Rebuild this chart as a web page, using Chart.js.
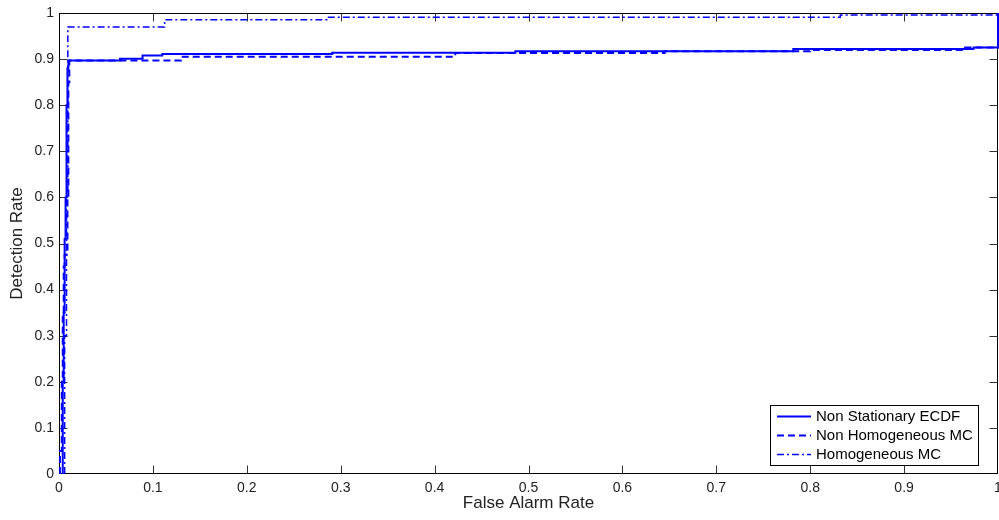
<!DOCTYPE html>
<html>
<head>
<meta charset="utf-8">
<script src="https://cdn.jsdelivr.net/npm/chart.js@4/dist/chart.umd.min.js"></script>
<style>
  html, body { margin: 0; padding: 0; background: #fff; overflow: hidden; }
  #c { display: block; }
</style>
</head>
<body>
<canvas id="c" width="999" height="520"></canvas>
<script>
// ---- data ----
const seriesNames = ['Non Stationary ECDF', 'Non Homogeneous MC', 'Homogeneous MC'];

const ecdfX = [0.004, 0.004, 0.005, 0.006, 0.007, 0.008, 0.009, 0.010, 0.065, 0.089, 0.110, 0.291, 0.486, 0.782, 0.974, 1.000, 1.000];
const ecdfY = [0.000, 0.200, 0.350, 0.510, 0.600, 0.800, 0.880, 0.897, 0.901, 0.908, 0.911, 0.914, 0.917, 0.922, 0.925, 0.925, 1.000];

const nhmcX = [0.001, 0.001, 0.003, 0.004, 0.005, 0.006, 0.008, 0.009, 0.010, 0.011, 0.130, 0.422, 0.645, 0.800, 0.965, 1.000, 1.000];
const nhmcY = [0.000, 0.050, 0.200, 0.350, 0.450, 0.475, 0.480, 0.600, 0.850, 0.897, 0.905, 0.913, 0.917, 0.920, 0.925, 0.925, 1.000];

const hmcX = [0.006, 0.006, 0.008, 0.0094, 0.0094, 0.1125, 0.285, 0.832, 1.000];
const hmcY = [0.000, 0.300, 0.600, 0.900, 0.9696, 0.9855, 0.991, 0.9956, 1.000];

const xTickLabels = ['0', '0.1', '0.2', '0.3', '0.4', '0.5', '0.6', '0.7', '0.8', '0.9', '1'];
const yTickLabels = ['0', '0.1', '0.2', '0.3', '0.4', '0.5', '0.6', '0.7', '0.8', '0.9', '1'];

const xTitle = 'False Alarm Rate';
const yTitle = 'Detection Rate';

function pts(xs, ys) { return xs.map((x, i) => ({ x: x, y: ys[i] })); }

const FONT = "'Liberation Sans', Arial, Helvetica, sans-serif";

// frame + inward ticks (MATLAB style box)
const framePlugin = {
  id: 'frame',
  beforeDatasetsDraw(chart) {
    const { ctx, chartArea: a, scales } = chart;
    ctx.save();
    ctx.strokeStyle = '#000';
    ctx.lineWidth = 1;
    const L = Math.round(a.left) + 0.5, R = Math.round(a.right) - 0.5;
    const T = Math.round(a.top) + 0.5, B = Math.round(a.bottom) - 0.5;
    ctx.strokeRect(L, T, R - L, B - T);
    ctx.strokeStyle = '#333';
    const tl = 8;
    ctx.beginPath();
    scales.x.ticks.forEach((t, i) => {
      if (i === 0 || i === scales.x.ticks.length - 1) return;
      const px = Math.round(scales.x.getPixelForValue(t.value)) + 0.5;
      ctx.moveTo(px, B); ctx.lineTo(px, B - tl);
      ctx.moveTo(px, T); ctx.lineTo(px, T + tl);
    });
    scales.y.ticks.forEach((t, i) => {
      if (i === 0 || i === scales.y.ticks.length - 1) return;
      const py = Math.round(scales.y.getPixelForValue(t.value)) + 0.5;
      ctx.moveTo(L, py); ctx.lineTo(L + tl, py);
      ctx.moveTo(R, py); ctx.lineTo(R - tl, py);
    });
    ctx.stroke();
    ctx.restore();
  }
};

// legend box inside the plot, lower right
const legendPlugin = {
  id: 'boxLegend',
  afterDraw(chart) {
    const { ctx } = chart;
    const x0 = 770.5, y0 = 405.5, w = 208, h = 60;
    ctx.save();
    ctx.fillStyle = '#fff';
    ctx.fillRect(x0, y0, w, h);
    ctx.strokeStyle = '#000';
    ctx.lineWidth = 1;
    ctx.strokeRect(x0, y0, w, h);
    ctx.font = '15px ' + FONT;
    ctx.textBaseline = 'middle';
    ctx.fillStyle = '#000';
    const rowY = [416.5, 435.5, 454.5];
    chart.data.datasets.forEach((ds, i) => {
      ctx.strokeStyle = ds.borderColor;
      ctx.lineWidth = ds.borderWidth;
      ctx.setLineDash(ds.borderDash || []);
      ctx.beginPath();
      ctx.moveTo(777, rowY[i]);
      ctx.lineTo(811, rowY[i]);
      ctx.stroke();
      ctx.setLineDash([]);
      ctx.fillText(ds.label, 816, rowY[i] + 0.5);
    });
    ctx.restore();
  }
};

new Chart(document.getElementById('c'), {
  type: 'scatter',
  data: {
    datasets: [
      { label: seriesNames[0], data: pts(ecdfX, ecdfY), showLine: true, stepped: true,
        borderColor: '#0000ff', borderWidth: 2, borderDash: [], pointRadius: 0, clip: 4 },
      { label: seriesNames[1], data: pts(nhmcX, nhmcY), showLine: true, stepped: true,
        borderColor: '#0000ff', borderWidth: 2, borderDash: [7, 4], pointRadius: 0, clip: 4 },
      { label: seriesNames[2], data: pts(hmcX, hmcY), showLine: true, stepped: true,
        borderColor: '#0000ff', borderWidth: 1.5, borderDash: [7, 3, 2, 3], pointRadius: 0, clip: 4 }
    ]
  },
  options: {
    responsive: false,
    maintainAspectRatio: false,
    animation: false,
    devicePixelRatio: 1,
    layout: { padding: { top: 13, left: 0, right: 1, bottom: 0 } },
    plugins: { legend: { display: false }, tooltip: { enabled: false } },
    scales: {
      x: {
        type: 'linear', min: 0, max: 1,
        afterFit(s) { s.height = 46; s.paddingLeft = 0; s.paddingRight = 0; },
        ticks: { stepSize: 0.1, color: '#222', padding: 6, maxRotation: 0, autoSkip: false,
                 font: { family: FONT, size: 14 },
                 callback: (v, i) => xTickLabels[i] },
        grid: { display: false, drawTicks: false },
        border: { display: false },
        title: { display: true, text: xTitle, color: '#222', font: { family: FONT, size: 17 },
                 padding: { top: 0, bottom: 6 } }
      },
      y: {
        type: 'linear', min: 0, max: 1,
        afterFit(s) { s.width = 59; s.paddingTop = 0; s.paddingBottom = 0; },
        ticks: { stepSize: 0.1, color: '#222', padding: 5, autoSkip: false,
                 font: { family: FONT, size: 14 },
                 callback: (v, i) => yTickLabels[i] },
        grid: { display: false, drawTicks: false },
        border: { display: false },
        title: { display: true, text: yTitle, color: '#222', font: { family: FONT, size: 17 },
                 padding: { top: 7, bottom: 0 } }
      }
    }
  },
  plugins: [framePlugin, legendPlugin]
});
</script>
</body>
</html>
